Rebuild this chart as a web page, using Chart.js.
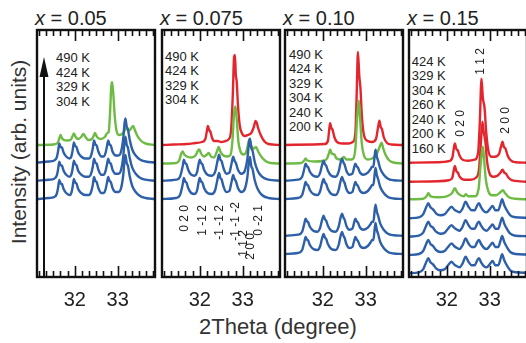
<!DOCTYPE html>
<html>
<head>
<meta charset="utf-8">
<script src="https://cdn.jsdelivr.net/npm/chart.js@4.4.1/dist/chart.umd.min.js"></script>
<style>
  html, body { margin: 0; padding: 0; }
  body { width: 526px; height: 343px; overflow: hidden; background: #fff; position: relative;
         font-family: "Liberation Sans", Arial, Helvetica, sans-serif; color: #222; }
  canvas { position: absolute; }
  .title { position: absolute; top: 8px; font-size: 20px; line-height: 20px; white-space: nowrap; }
  .temps { position: absolute; font-size: 13px; line-height: 14.5px; white-space: nowrap; color: #222; }
  .ytitle { position: absolute; left: -91px; top: 141px; width: 220px; text-align: center;
            font-size: 21px; line-height: 22px; transform: rotate(-90deg); color: #333; }
  .xtitle { position: absolute; left: 178px; top: 316px; width: 200px; text-align: center;
            font-size: 22px; line-height: 22px; color: #333; }
</style>
</head>
<body>
<div class="ytitle">Intensity (arb. units)</div>
<div class="xtitle">2Theta (degree)</div>
<script>
// 2θ window shared by all four panels
const XMIN = 31.12, XMAX = 33.87;
const tickLabels = [32, 33];
const minorPerDegree = 6;

const RED = '#e3262d', GREEN = '#6dbb43', BLUE = '#2e60aa';

// compositions shown above each panel
const compositions = ['0.05', '0.075', '0.10', '0.15'];

// temperatures, listed top curve first
const temps05 = ['490 K', '424 K', '329 K', '304 K'];
const temps075 = ['490 K', '424 K', '329 K', '304 K'];
const temps10 = ['490 K', '424 K', '329 K', '304 K', '240 K', '200 K'];
const temps15 = ['424 K', '329 K', '304 K', '260 K', '240 K', '200 K', '160 K'];

// vertical stacking offsets of each pattern (arb. units)
const offsets05 = [132, 113.5, 95.3, 77];
const offsets075 = [132, 113.5, 95.3, 77];
const offsets10 = [132, 113.5, 95.3, 77, 40.3, 22];
const offsets15 = [114.3, 95.3, 77.7, 58.7, 40.3, 22, 3.7];

// ---- diffraction profiles: [2θ, intensity above baseline] ----
// x = 0.05
const p05Green = [[31.12,0],[31.5,0.5],[31.6,2],[31.65,8],[31.67,10],[31.7,7],[31.75,5],[31.82,4.5],[31.9,5],[31.95,9],[31.98,11.5],[32.02,8],[32.08,6],[32.15,8],[32.2,11],[32.25,8],[32.32,5],[32.4,6],[32.45,10],[32.47,12],[32.52,8],[32.6,6],[32.7,8],[32.76,12],[32.79,13],[32.82,30],[32.85,58],[32.87,63],[32.9,50],[32.93,30],[32.97,15],[33.03,10],[33.1,11],[33.17,15],[33.21,17],[33.26,14],[33.32,17],[33.36,19],[33.4,15],[33.46,9],[33.55,4],[33.65,1.5],[33.87,0]];
const p05Blue = [[31.12,1],[31.4,2],[31.52,3],[31.58,6],[31.61,12],[31.64,20],[31.67,16.5],[31.7,16],[31.74,11],[31.8,7],[31.88,5],[31.92,7],[31.95,13],[31.98,21],[32.01,17.5],[32.04,16.5],[32.08,11],[32.15,7],[32.24,5],[32.33,5],[32.38,8],[32.42,15],[32.45,23],[32.48,19],[32.51,18],[32.55,12],[32.62,7],[32.68,7],[32.72,11],[32.75,17],[32.78,23],[32.81,19],[32.84,18],[32.88,12],[32.95,8],[33.02,8],[33.08,12],[33.13,25],[33.16,40],[33.18,45],[33.21,37],[33.24,34],[33.28,24],[33.34,14],[33.42,8],[33.52,4],[33.65,2],[33.87,1]];
// x = 0.075
const p075Red = [[31.12,0],[31.4,0.5],[31.7,1],[31.9,2],[32.05,3],[32.13,6],[32.17,15],[32.19,19],[32.22,15],[32.25,13],[32.28,8],[32.33,4],[32.41,4],[32.5,3],[32.6,4],[32.68,6],[32.73,15],[32.77,50],[32.8,88],[32.82,90],[32.84,70],[32.86,64],[32.89,40],[32.93,20],[32.98,12],[33.05,9],[33.12,10],[33.2,12],[33.26,18],[33.3,24],[33.33,22],[33.36,17],[33.42,10],[33.5,4],[33.6,1],[33.87,0]];
const p075Green = [[31.12,0],[31.45,0.5],[31.52,3],[31.57,10],[31.6,12],[31.64,9],[31.7,7],[31.8,6],[31.9,8],[31.96,13],[31.99,14],[32.03,10],[32.1,7],[32.17,9],[32.21,10.6],[32.26,7],[32.33,6],[32.4,12],[32.44,16.6],[32.48,12],[32.55,8],[32.65,7],[32.72,9],[32.76,22],[32.8,50],[32.83,57],[32.86,45],[32.9,22],[32.95,12],[33.02,9],[33.08,11],[33.12,18],[33.155,24],[33.2,18],[33.26,15],[33.31,16.6],[33.36,12],[33.45,6],[33.55,2],[33.65,0.5],[33.87,0]];
const p075Blue = [[31.12,1],[31.45,2],[31.54,5],[31.6,15],[31.63,22],[31.66,18.5],[31.69,17.5],[31.73,12],[31.8,7],[31.88,6],[31.94,10],[31.97,17],[32.0,22],[32.03,18.5],[32.06,17.5],[32.1,12],[32.18,7],[32.28,6],[32.36,10],[32.41,20],[32.45,27],[32.48,22],[32.51,20.5],[32.55,14],[32.62,8],[32.69,9],[32.74,18],[32.78,25],[32.81,21],[32.84,19],[32.89,12],[32.97,8],[33.05,11],[33.11,23],[33.15,40],[33.17,43],[33.2,34],[33.23,31],[33.28,20],[33.35,11],[33.45,5],[33.6,2],[33.87,1]];
// x = 0.10
const p10Red = [[31.12,0],[31.8,0.5],[32.05,1],[32.12,4],[32.15,15],[32.17,21.7],[32.2,17],[32.23,15],[32.27,8],[32.33,3],[32.45,1.5],[32.6,1.5],[32.7,3],[32.76,12],[32.79,50],[32.82,93],[32.85,70],[32.88,56],[32.91,30],[32.96,10],[33.05,4],[33.15,3],[33.24,6],[33.29,18],[33.32,24.3],[33.35,18],[33.38,16],[33.42,8],[33.5,2],[33.6,0.5],[33.87,0]];
const p10Green = [[31.12,0],[31.5,0.5],[31.57,3],[31.6,5],[31.64,3],[31.8,2],[32.0,2.5],[32.1,5],[32.15,11],[32.17,14],[32.21,10],[32.27,9],[32.32,5],[32.42,4],[32.49,6.6],[32.55,4],[32.68,4],[32.76,15],[32.8,45],[32.84,63],[32.87,45],[32.91,20],[32.96,8],[33.05,4],[33.15,5],[33.25,9],[33.32,16],[33.37,20.7],[33.41,15],[33.46,9],[33.55,3],[33.65,1],[33.87,0]];
const p10Blue = [[31.12,1],[31.42,2],[31.52,5],[31.57,13],[31.6,18],[31.63,15.5],[31.66,14.5],[31.7,10],[31.78,6],[31.88,5],[31.94,9],[31.98,16],[32.02,21],[32.05,17.5],[32.08,16],[32.12,11],[32.2,6],[32.3,5],[32.37,10],[32.41,18],[32.45,23],[32.48,19.5],[32.51,17],[32.55,11],[32.62,7],[32.69,8],[32.73,14],[32.76,18],[32.79,15.5],[32.82,14],[32.87,9],[32.95,7],[33.05,9],[33.12,13],[33.15,15],[33.18,15],[33.21,26],[33.23,32],[33.26,25],[33.29,21],[33.34,13],[33.42,7],[33.52,3],[33.65,1.5],[33.87,1]];
// x = 0.15
const p15Red424 = [[31.12,0],[31.8,0.5],[32.05,1.5],[32.13,5],[32.17,16],[32.19,19.3],[32.22,14],[32.26,12],[32.3,7],[32.37,3],[32.5,2],[32.65,3],[32.73,10],[32.77,40],[32.81,84],[32.84,65],[32.88,55],[32.92,30],[32.97,12],[33.04,6],[33.12,6],[33.22,9],[33.27,17],[33.3,21],[33.33,16],[33.37,14],[33.42,7],[33.5,2],[33.6,0.5],[33.87,0]];
const p15Red329 = [[31.12,0],[31.8,0.5],[32.05,1.5],[32.13,4],[32.17,13],[32.19,15.7],[32.22,11],[32.26,9],[32.3,5],[32.4,2],[32.55,2],[32.68,4],[32.75,12],[32.79,35],[32.83,60],[32.86,50],[32.9,40],[32.94,20],[33.0,8],[33.08,5],[33.18,6],[33.25,9],[33.3,12],[33.34,9],[33.38,8],[33.44,4],[33.55,1],[33.87,0]];
const p15Green = [[31.12,0],[31.45,0.5],[31.53,3],[31.57,6],[31.62,3],[31.8,2],[32.0,3],[32.12,6],[32.19,11],[32.24,7],[32.32,4],[32.4,3],[32.44,5],[32.5,3],[32.65,3],[32.74,10],[32.79,35],[32.84,52.6],[32.87,40],[32.91,20],[32.97,8],[33.05,4],[33.15,4],[33.25,7],[33.31,9],[33.36,6],[33.45,2],[33.6,0.5],[33.87,0]];
const p15Blue = [[31.12,0],[31.35,1],[31.45,4],[31.52,11],[31.57,15],[31.62,11],[31.68,9],[31.75,5],[31.85,3],[31.95,4],[32.03,8],[32.11,11.6],[32.17,9],[32.24,7],[32.3,6],[32.37,10],[32.44,16.6],[32.5,12],[32.58,8],[32.65,8],[32.71,13],[32.75,15],[32.8,11],[32.87,7],[32.93,6],[33.0,9],[33.07,12.3],[33.13,8],[33.2,8],[33.25,14],[33.29,19],[33.34,13],[33.4,8],[33.48,3],[33.6,1],[33.87,0.5]];

// reflection indices and their 2θ
const hkl075 = [['0 2 0', 31.655], ['1 -1 2', 32.07], ['-1 -1 2', 32.47], ['-1 -1 -2', 32.84], ['1 1 2', 33.03], ['2 0 0', 33.19], ['0 -2 1', 33.37]];
const hkl15 = [['1 1 2', 32.79], ['0 2 0', 32.32], ['2 0 0', 33.38]];

// ---- layout ----
const panelLeft = [37, 162, 285, 409];
const PANEL_W = 118, PANEL_TOP = 30, PANEL_H = 247, PAD = 2;
const tempBoxes = [[56, 51], [165, 49.5], [289, 47.8], [411.7, 54.5]];
const hklTop075 = [175, 175, 175, 172, 200, 203, 175];   // px below panel top
const hklTop15 = [18, 80, 77];
const hklFont075 = 12, hklFont15 = 12;

const panels = [
  { temps: temps05,  offsets: offsets05,  curves: [[p05Green, GREEN], [p05Blue, BLUE], [p05Blue, BLUE], [p05Blue, BLUE]], arrow: true },
  { temps: temps075, offsets: offsets075, curves: [[p075Red, RED], [p075Green, GREEN], [p075Blue, BLUE], [p075Blue, BLUE]], hkl: hkl075, hklTop: hklTop075, hklFont: hklFont075 },
  { temps: temps10,  offsets: offsets10,  curves: [[p10Red, RED], [p10Green, GREEN], [p10Blue, BLUE], [p10Blue, BLUE], [p10Blue, BLUE], [p10Blue, BLUE]] },
  { temps: temps15,  offsets: offsets15,  curves: [[p15Red424, RED], [p15Red329, RED], [p15Green, GREEN], [p15Blue, BLUE], [p15Blue, BLUE], [p15Blue, BLUE], [p15Blue, BLUE]], hkl: hkl15, hklTop: hklTop15, hklFont: hklFont15 }
];

// frame, inward ticks, arrow and reflection labels
const decor = {
  id: 'decor',
  afterDatasetsDraw(chart, args, o) {
    const { ctx, chartArea: a, scales: { x } } = chart;
    ctx.save();
    ctx.strokeStyle = '#111';
    ctx.lineWidth = 1.6;
    ctx.beginPath();
    const k0 = Math.ceil(XMIN * minorPerDegree), k1 = Math.floor(XMAX * minorPerDegree);
    for (let k = k0; k <= k1; k++) {
      const px = Math.round(x.getPixelForValue(k / minorPerDegree)) + 0.5;
      const len = (k % minorPerDegree === 0) ? 11 : 6;
      ctx.moveTo(px, a.top); ctx.lineTo(px, a.top + len);
      ctx.moveTo(px, a.bottom); ctx.lineTo(px, a.bottom - len);
    }
    ctx.stroke();
    ctx.lineWidth = 2.4;
    ctx.strokeRect(a.left, a.top, a.right - a.left, a.bottom - a.top);
    if (o.arrow) {
      const ax = a.left + 7;
      ctx.lineWidth = 2;
      ctx.beginPath(); ctx.moveTo(ax, a.bottom); ctx.lineTo(ax, a.top + 40); ctx.stroke();
      ctx.fillStyle = '#111';
      ctx.beginPath(); ctx.moveTo(ax, a.top + 27); ctx.lineTo(ax - 4.5, a.top + 47); ctx.lineTo(ax + 4.5, a.top + 47); ctx.closePath(); ctx.fill();
    }
    if (o.hkl) {
      ctx.fillStyle = '#222';
      ctx.font = o.hklFont + 'px "Liberation Sans", Arial, sans-serif';
      ctx.textAlign = 'right';
      ctx.textBaseline = 'middle';
      o.hkl.forEach(([t, th], i) => {
        ctx.save();
        ctx.translate(x.getPixelForValue(th), a.top + o.hklTop[i]);
        ctx.rotate(-Math.PI / 2);
        ctx.fillText(t, 0, 0);
        ctx.restore();
      });
    }
    ctx.restore();
  }
};

panels.forEach((p, i) => {
  // composition label
  const t = document.createElement('div');
  t.className = 'title';
  t.style.left = (panelLeft[i] - 2) + 'px';
  t.innerHTML = '<i>x</i> = ' + compositions[i];
  document.body.appendChild(t);
  // temperature list
  const tl = document.createElement('div');
  tl.className = 'temps';
  tl.style.left = tempBoxes[i][0] + 'px';
  tl.style.top = tempBoxes[i][1] + 'px';
  tl.innerHTML = p.temps.join('<br>');
  document.body.appendChild(tl);

  const c = document.createElement('canvas');
  c.width = PANEL_W + 2 * PAD;
  c.height = PAD + PANEL_H + 46;
  c.style.left = (panelLeft[i] - PAD) + 'px';
  c.style.top = (PANEL_TOP - PAD) + 'px';
  document.body.appendChild(c);

  const datasets = p.curves.map(([prof, col], j) => ({
    label: p.temps[j],
    data: prof.map(([tt, v]) => ({ x: tt, y: v + p.offsets[j] })),
    borderColor: col,
    borderWidth: 2.4,
    pointRadius: 0,
    fill: false,
    cubicInterpolationMode: 'monotone',
    order: -j
  }));

  new Chart(c, {
    type: 'line',
    data: { datasets },
    options: {
      responsive: false,
      animation: false,
      events: [],
      layout: { padding: { left: PAD, right: PAD, top: PAD, bottom: 0 } },
      plugins: { legend: { display: false }, tooltip: { enabled: false }, decor: { arrow: !!p.arrow, hkl: p.hkl, hklTop: p.hklTop, hklFont: p.hklFont } },
      scales: {
        x: {
          type: 'linear', min: XMIN, max: XMAX,
          afterBuildTicks: ax => { ax.ticks = tickLabels.map(v => ({ value: v })); },
          ticks: { padding: 11, color: '#222', font: { size: 20, family: '"Liberation Sans", Arial, sans-serif' }, maxRotation: 0, autoSkip: false },
          grid: { display: false, drawTicks: false },
          border: { display: false }
        },
        y: { display: false, min: 0, max: PANEL_H }
      }
    },
    plugins: [decor]
  });
});
</script>
</body>
</html>
